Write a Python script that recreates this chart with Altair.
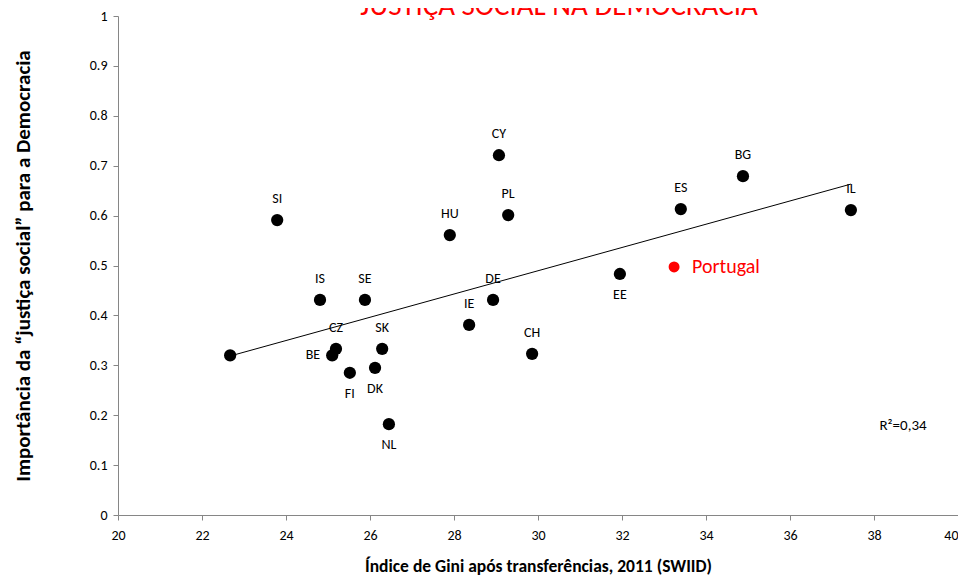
import altair as alt
import pandas as pd
import json

# ---- data ----
countries = ["", "SI", "IS", "SE", "CZ", "BE", "FI", "DK", "SK", "NL",
             "IE", "HU", "CY", "PL", "DE", "CH", "EE", "ES", "BG", "IL"]
gini = [22.67, 23.79, 24.81, 25.88, 25.19, 25.10, 25.52, 26.12, 26.29, 26.45,
        28.36, 27.90, 29.07, 29.29, 28.93, 29.86, 31.95, 33.40, 34.88, 37.45]
justica = [0.320, 0.591, 0.431, 0.431, 0.333, 0.320, 0.285, 0.295, 0.333, 0.182,
           0.381, 0.561, 0.721, 0.601, 0.431, 0.323, 0.483, 0.613, 0.679, 0.611]

pt_name = ["Portugal"]
pt_gini = [33.24]
pt_justica = [0.497]

labels_below = ["FI", "DK", "NL", "EE"]
labels_left = ["BE"]

x_ticks = [20, 22, 24, 26, 28, 30, 32, 34, 36, 38, 40]
y_ticks = [0, 0.1, 0.2, 0.3, 0.4, 0.5, 0.6, 0.7, 0.8, 0.9, 1]

title_text = "JUSTIÇA SOCIAL NA DEMOCRACIA"
r2_text = "R²=0,34"
x_title = "Índice de Gini após transferências, 2011 (SWIID)"
y_title = "Importância da “justiça social” para a Democracia"

FONT = "Carlito, Lato, sans-serif"

df = pd.DataFrame({"pais": countries, "gini": gini, "justica": justica})
pt = pd.DataFrame({"pais": pt_name, "gini": pt_gini, "justica": pt_justica})

xs = alt.Scale(domain=[20, 40], nice=False, zero=False)
ys = alt.Scale(domain=[0, 1], nice=False)

last_x = x_ticks[-1]
xenc = alt.X("gini:Q", scale=xs, title=x_title,
             axis=alt.Axis(values=x_ticks, format="~g", labelPadding=8, labelFlush=False,
                           labelAlign={"condition": {"test": f"datum.value >= {last_x}",
                                                     "value": "right"},
                                       "value": "center"},
                           titleY=42, titleBaseline="top", titleFontSize=17.5))
yenc = alt.Y("justica:Q", scale=ys, title=y_title,
             axis=alt.Axis(values=y_ticks, format="~g", labelPadding=6, labelFlush=False,
                           titleX=-85, titleBaseline="bottom", titleFontSize=21))

base = alt.Chart(df).encode(x=xenc, y=yenc)

points = base.mark_circle(size=150, color="black", opacity=1)

trend = alt.Chart(df).transform_regression(
    "gini", "justica"
).mark_line(color="black", strokeWidth=1).encode(x=xenc, y=yenc)

special = json.dumps(labels_below + labels_left)
below_js = json.dumps(labels_below)
left_js = json.dumps(labels_left)

LBL = 14

lab_above = base.transform_filter(
    f"datum.pais != '' && indexof({special}, datum.pais) < 0"
).mark_text(dy=-21, fontSize=LBL, font=FONT, color="black").encode(text="pais:N")

lab_below = base.transform_filter(
    f"indexof({below_js}, datum.pais) >= 0"
).mark_text(dy=21, fontSize=LBL, font=FONT, color="black").encode(text="pais:N")

lab_left = base.transform_filter(
    f"indexof({left_js}, datum.pais) >= 0"
).mark_text(dx=-12, align="right", fontSize=LBL, font=FONT, color="black").encode(text="pais:N")

pt_base = alt.Chart(pt).encode(x=xenc, y=yenc)
pt_point = pt_base.mark_circle(size=120, color="#ff0000", opacity=1)
pt_label = pt_base.mark_text(dx=18, align="left", fontSize=20, font=FONT,
                             color="#ff0000").encode(text="pais:N")

r2 = alt.Chart(pd.DataFrame({"t": [r2_text]})).mark_text(
    fontSize=15, font=FONT, color="black"
).encode(x=alt.value(785), y=alt.value(409), text="t:N")

title = alt.Chart(pd.DataFrame({"t": [title_text]})).mark_text(
    fontSize=29, font=FONT, color="#ff0000", baseline="alphabetic", align="center"
).encode(x=alt.value(441), y=alt.value(-1), text="t:N")

chart = alt.layer(
    trend, points, lab_above, lab_below, lab_left, pt_point, pt_label, r2, title
).properties(
    width=840, height=499,
    autosize=alt.AutoSizeParams(type="none"),
    padding={"left": 110, "top": 8, "right": 0, "bottom": 63},
).configure_view(stroke=None).configure_axis(
    grid=False,
    domainColor="#868686",
    tickColor="#868686",
    tickSize=5,
    labelColor="black",
    labelFont=FONT,
    labelFontSize=14,
    titleFont=FONT,
    titleFontWeight="bold",
    titleColor="black",
)

chart.save("out.html", embed_options={"renderer": "svg", "actions": False})
